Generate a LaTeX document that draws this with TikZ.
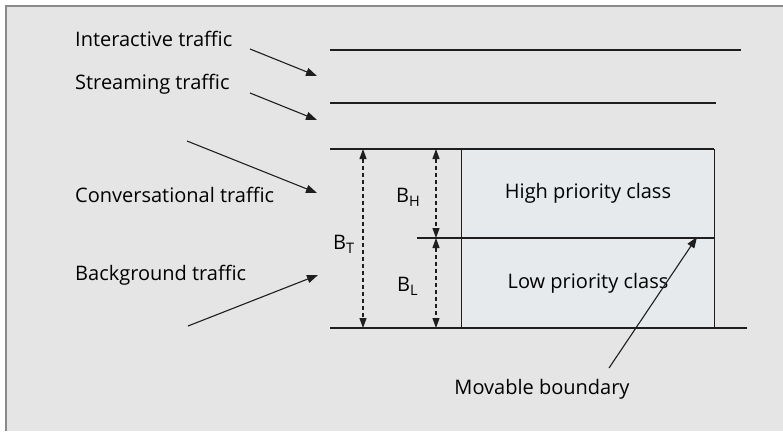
\documentclass[tikz,border=0pt]{standalone}
\usepackage{fontspec}
\setmainfont{Open Sans}
\usetikzlibrary{arrows.meta}
\definecolor{bggray}{HTML}{E5E5E5}
\definecolor{framegray}{HTML}{8A8A8A}
\definecolor{boxfill}{HTML}{E6EAED}
\definecolor{linecol}{HTML}{1E1E1E}
\newcommand{\mysub}[1]{\raisebox{-4.5pt}{\fontsize{14.5}{15}\selectfont #1}}
\tikzset{
  lbl/.style={font=\fontsize{20}{22}\selectfont, inner sep=0pt, text=black},
  traffic/.style={draw=linecol, line width=1.1pt, -{Triangle[length=11pt,width=8pt]}},
  level/.style={draw=linecol, line width=1.2pt},
  dim/.style={draw=linecol, line width=1.1pt, dash pattern=on 4pt off 3pt, {Triangle[length=10pt,width=7pt]}-{Triangle[length=10pt,width=7pt]}}
}
\begin{document}
\begin{tikzpicture}[x=1pt,y=-1pt]
\useasboundingbox (0,0) rectangle (783,431);
\fill[white] (0,0) rectangle (783,431);
\fill[bggray] (5,5) rectangle (783,431);
\draw[framegray, line width=1.6pt] (5.8,431) -- (5.8,5.8) -- (783,5.8);
% box
\node[draw=linecol, line width=1.2pt, fill=boxfill, minimum width=253pt, minimum height=179pt, anchor=north west, inner sep=0pt] (box) at (461,149) {};
% level lines
\coordinate (l1a) at (330,50); \coordinate (l1b) at (741,50);
\coordinate (l2a) at (330,103); \coordinate (l2b) at (716,103);
\coordinate (l3a) at (330,149); \coordinate (l3b) at (714,149);
\coordinate (l4a) at (417,238); \coordinate (l4b) at (714,238);
\coordinate (l5a) at (330,328); \coordinate (l5b) at (747,328);
\draw[level] (l1a) -- (l1b);
\draw[level] (l2a) -- (l2b);
\draw[level] (l3a) -- (l3b);
\draw[level] (l4a) -- (l4b);
\draw[level] (l5a) -- (l5b);
% dimension arrows
\coordinate (bt1) at (363,149); \coordinate (bt2) at (363,328);
\coordinate (bh1) at (436,149); \coordinate (bh2) at (436,238);
\coordinate (bl1) at (436,238); \coordinate (bl2) at (436,328);
\draw[dim] (bt1) -- (bt2);
\draw[dim] (bh1) -- (bh2);
\draw[dim] (bl1) -- (bl2);
\node[lbl, anchor=base west] (BT) at (333,249) {B\mysub{T}};
\node[lbl, anchor=base west] (BH) at (396,202) {B\mysub{H}};
\node[lbl, anchor=base west] (BL) at (397,291) {B\mysub{L}};
% class labels
\node[lbl] (high) at (588,193) {High priority class};
\node[lbl] (low) at (588,283) {Low priority class};
% traffic labels
\node[lbl, anchor=west] (inter) at (75,39) {Interactive traffic};
\node[lbl, anchor=west] (stream) at (75,84) {Streaming traffic};
\node[lbl, anchor=west] (conv) at (75,195) {Conversational traffic};
\node[lbl, anchor=west] (backg) at (75,275) {Background traffic};
\node[lbl] (mov) at (542,389) {Movable boundary};
% traffic arrows
\coordinate (a1s) at (250,49); \coordinate (a1e) at (317,76);
\coordinate (a2s) at (250,93); \coordinate (a2e) at (317,120);
\coordinate (a3s) at (187,141); \coordinate (a3e) at (317,193);
\coordinate (a4s) at (188,326); \coordinate (a4e) at (318,275);
\coordinate (a5s) at (609,368); \coordinate (a5e) at (697,237);
\draw[traffic] (a1s) -- (a1e);
\draw[traffic] (a2s) -- (a2e);
\draw[traffic] (a3s) -- (a3e);
\draw[traffic] (a4s) -- (a4e);
\draw[traffic] (a5s) -- (a5e);
\end{tikzpicture}
\end{document}
